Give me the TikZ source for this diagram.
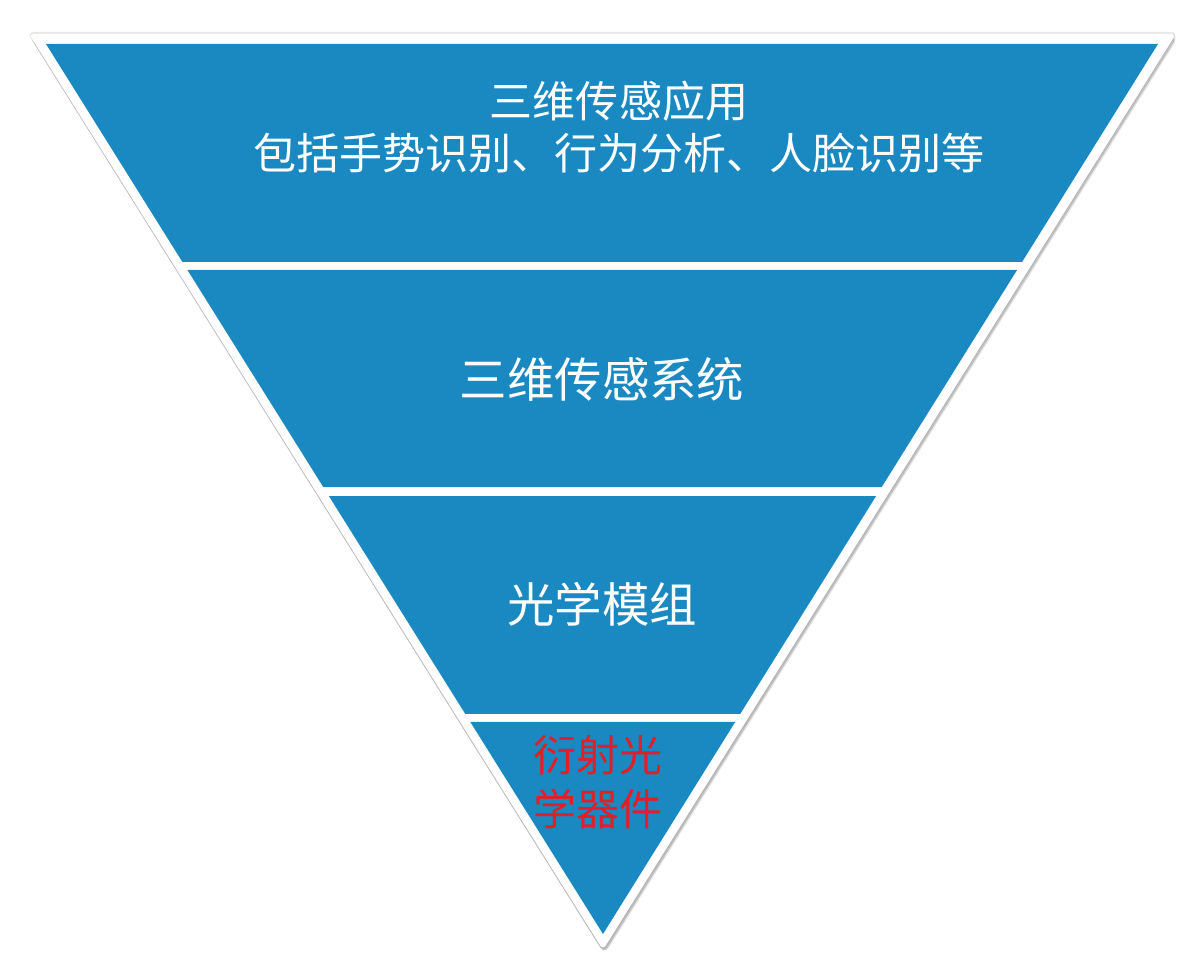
\documentclass[tikz,border=0pt]{standalone}
\usepackage{fontspec}
\newfontfamily\cjk{Noto Sans CJK SC}
\usetikzlibrary{calc}
\definecolor{bandblue}{RGB}{26,136,193}
\definecolor{labelred}{RGB}{226,30,40}

\begin{document}
\begin{tikzpicture}[
        x=0.02cm, y=-0.02cm,
        band/.style={fill=bandblue, draw=none},
        frame/.style={fill=white, draw=none, rounded corners=3pt},
        haze/.style={fill=black, opacity=0.09, draw=none, rounded corners=4pt},
        label/.style={text=white, align=center, inner sep=0pt, font=\cjk\fontsize{24.5}{29.6}\selectfont},
        biglabel/.style={label, font=\cjk\fontsize{27}{32}\selectfont},
    ]
    \useasboundingbox (0,0) rectangle (1204,972);

    % corners of the blue triangle
    \coordinate (TL) at (46,44);
    \coordinate (TR) at (1158,44);
    \coordinate (tip) at (603,934);

    % soft shadow under the white frame
    \foreach \dx/\dy/\g in {0/0/2, 1/2/1.5, 1/3/0.5, 2/4/0}
        \path[haze] (29+\dx-\g,34+\dy-\g) -- (1176+\dx+\g,34+\dy-\g) -- (603+\dx,950+\dy+\g) -- cycle;

    % white frame
    \path[frame] (29,34) -- (1176,34) -- (603,950) -- cycle;

    % the four bands, top to bottom
    \foreach \a/\b in {0/0.2449, 0.2539/0.4978, 0.5079/0.7528, 0.7618/1}
        \path[band] ($(TL)!\a!(tip)$) -- ($(TR)!\a!(tip)$)
            -- ($(TR)!\b!(tip)$) -- ($(TL)!\b!(tip)$) -- cycle;

    % labels
    \node[label] (app) at (619,127) {三维传感应用\\包括手势识别、行为分析、人脸识别等};
    \node[biglabel] (sys) at (602,379) {三维传感系统};
    \node[biglabel] (mod) at (602,604) {光学模组};
    \node[label, text=labelred, font=\cjk\fontsize{24.5}{30.5}\selectfont] (doe) at (598,782) {衍射光\\学器件};
\end{tikzpicture}
\end{document}
